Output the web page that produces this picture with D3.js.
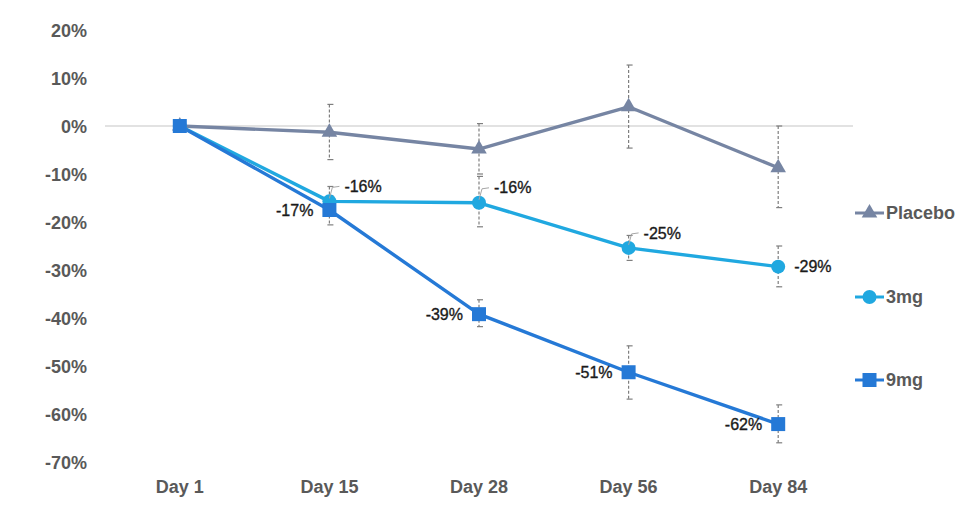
<!DOCTYPE html>
<html>
<head>
<meta charset="utf-8">
<script src="https://cdn.jsdelivr.net/npm/d3@7/dist/d3.min.js"></script>
<style>
  html, body { margin: 0; padding: 0; background: #fff; }
  svg { display: block; font-family: "Liberation Sans", Arial, sans-serif; }
</style>
</head>
<body>
<svg id="chart" width="980" height="527"></svg>
<script>
// ---- data ----
const categories = ["Day 1", "Day 15", "Day 28", "Day 56", "Day 84"];
const yTicks = [20, 10, 0, -10, -20, -30, -40, -50, -60, -70];

const placebo   = [0, -1.3, -4.8, 4.0, -8.7];
const placeboHi = [null, 4.5, 0.5, 12.7, 0.0];
const placeboLo = [null, -7.0, -10.0, -4.6, -17.0];

const mg3   = [0, -15.7, -16.0, -25.4, -29.3];
const mg3Hi = [null, -12.6, -10.5, -22.8, -25.0];
const mg3Lo = [null, -18.5, -21.0, -28.0, -33.5];
const mg3Labels = ["", "-16%", "-16%", "-25%", "-29%"];

const mg9   = [0, -17.5, -39.2, -51.3, -62.1];
const mg9Hi = [null, -14.5, -36.2, -45.8, -58.1];
const mg9Lo = [null, -20.6, -41.8, -56.9, -66.0];
const mg9Labels = ["", "-17%", "-39%", "-51%", "-62%"];

const seriesNames = ["Placebo", "3mg", "9mg"];

// ---- layout ----
const svg = d3.select("#chart");
const x = d3.scaleBand().domain(categories).range([105, 853]);
const y = d3.scaleLinear().domain([-70, 20]).range([462, 30]);
const cx = c => x(c) + x.bandwidth() / 2;

const colors = { "Placebo": "#7685A3", "3mg": "#20A8E0", "9mg": "#2579D6" };

// y axis
const yAxis = d3.axisLeft(y).tickValues(yTicks).tickFormat(d => d + "%").tickSize(0).tickPadding(0);
const gy = svg.append("g").attr("transform", "translate(87,0)").call(yAxis);
gy.select(".domain").remove();
gy.selectAll("text").attr("fill", "#595959").style("font-size", "18px").style("font-weight", "bold")
  .style("font-family", "Liberation Sans, Arial, sans-serif").attr("dy", "0.35em");

// x axis labels
const xAxis = d3.axisBottom(x).tickSize(0).tickPadding(0);
const gx = svg.append("g").attr("transform", "translate(0,480)").call(xAxis);
gx.select(".domain").remove();
gx.selectAll("text").attr("fill", "#595959").style("font-size", "18px").style("font-weight", "bold")
  .style("font-family", "Liberation Sans, Arial, sans-serif");

// zero line
svg.append("line").attr("x1", 105).attr("x2", 853).attr("y1", y(0)).attr("y2", y(0))
  .attr("stroke", "#D9D9D9").attr("stroke-width", 1.5);

const series = [
  { name: "Placebo", vals: placebo, hi: placeboHi, lo: placeboLo, marker: "triangle" },
  { name: "3mg", vals: mg3, hi: mg3Hi, lo: mg3Lo, marker: "circle" },
  { name: "9mg", vals: mg9, hi: mg9Hi, lo: mg9Lo, marker: "square" }
];

const line = d3.line().x((d, i) => cx(categories[i])).y(d => y(d));

function drawMarker(g, type, px, py, color) {
  if (type === "triangle") {
    g.append("path").attr("d", d3.symbol().type(d3.symbolTriangle).size(105)())
      .attr("transform", `translate(${px},${py})`).attr("fill", color);
  } else if (type === "circle") {
    g.append("circle").attr("cx", px).attr("cy", py).attr("r", 7).attr("fill", color);
  } else {
    g.append("rect").attr("x", px - 7).attr("y", py - 7).attr("width", 14).attr("height", 14).attr("fill", color);
  }
}

// error bars
const gErr = svg.append("g");
series.forEach(s => {
  s.vals.forEach((v, i) => {
    if (s.hi[i] === null) return;
    const px = cx(categories[i]);
    gErr.append("line").attr("x1", px).attr("x2", px).attr("y1", y(s.hi[i])).attr("y2", y(s.lo[i]))
      .attr("stroke", "#7F7F7F").attr("stroke-width", 1.2).attr("stroke-dasharray", "3,2");
    [s.hi[i], s.lo[i]].forEach(e => {
      gErr.append("line").attr("x1", px - 2).attr("x2", px + 4).attr("y1", y(e)).attr("y2", y(e))
        .attr("stroke", "#7F7F7F").attr("stroke-width", 1.2);
    });
  });
});

// lines and markers
series.forEach(s => {
  svg.append("path").datum(s.vals).attr("d", line).attr("fill", "none")
    .attr("stroke", colors[s.name]).attr("stroke-width", 3.4).attr("stroke-linejoin", "round");
});
series.forEach(s => {
  const g = svg.append("g");
  s.vals.forEach((v, i) => drawMarker(g, s.marker, cx(categories[i]), y(v), colors[s.name]));
});

// data labels
const gLab = svg.append("g").style("font-size", "16px").attr("fill", "#1a1a1a")
  .attr("stroke", "#1a1a1a").attr("stroke-width", 0.35);
mg3Labels.forEach((t, i) => {
  if (!t) return;
  const px = cx(categories[i]), py = y(mg3[i]);
  if (i === 4) {
    gLab.append("text").attr("x", px + 16).attr("y", py).attr("dy", "0.35em").text(t);
  } else {
    svg.append("polyline").attr("points", `${px},${py - 3} ${px + 3},${py - 14} ${px + 10},${py - 15}`)
      .attr("fill", "none").attr("stroke", "#A6A6A6").attr("stroke-width", 1);
    gLab.append("text").attr("x", px + 15).attr("y", py - 15).attr("dy", "0.35em").text(t);
  }
});
mg9Labels.forEach((t, i) => {
  if (!t) return;
  const px = cx(categories[i]), py = y(mg9[i]);
  gLab.append("text").attr("x", px - 16).attr("y", py).attr("dy", "0.35em")
    .attr("text-anchor", "end").text(t);
});

// legend
const legendY = [213, 297, 380];
series.forEach((s, k) => {
  const g = svg.append("g");
  const ly = legendY[k];
  g.append("line").attr("x1", 855).attr("x2", 884).attr("y1", ly).attr("y2", ly)
    .attr("stroke", colors[s.name]).attr("stroke-width", 3);
  drawMarker(g, s.marker, 869.5, ly, colors[s.name]);
  g.append("text").attr("x", 886).attr("y", ly).attr("dy", "0.35em")
    .attr("fill", "#595959").style("font-size", "18px").style("font-weight", "bold").text(s.name);
});
</script>
</body>
</html>
